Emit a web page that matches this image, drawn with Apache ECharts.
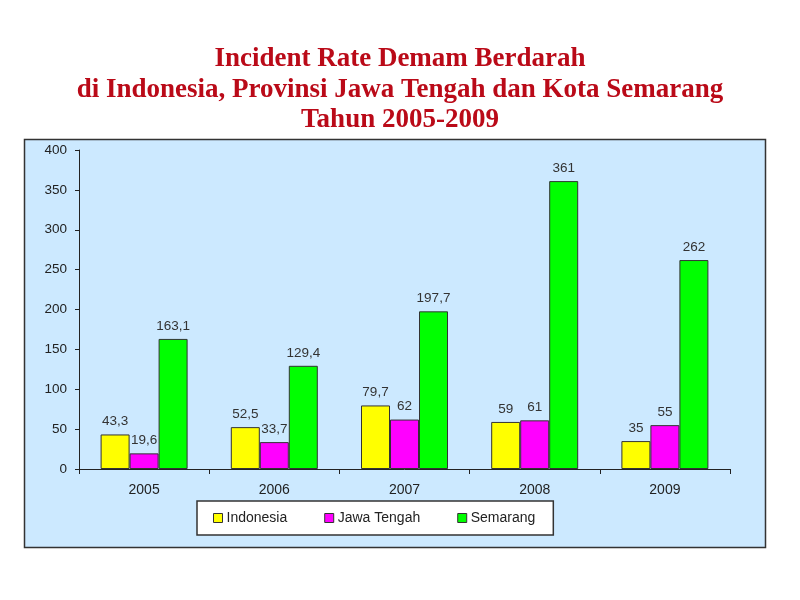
<!DOCTYPE html>
<html>
<head>
<meta charset="utf-8">
<script src="https://cdn.jsdelivr.net/npm/echarts@6/dist/echarts.min.js"></script>
<style>
  html, body { margin: 0; padding: 0; background: #fff; }
  #chart { width: 800px; height: 600px; }
</style>
</head>
<body>
<div id="chart"></div>
<script>
const years = ['2005', '2006', '2007', '2008', '2009'];
const indonesia = [43.3, 52.5, 79.7, 59, 35];
const jawaTengah = [19.6, 33.7, 62, 61, 55];
const semarang = [163.1, 129.4, 197.7, 361, 262];

const chart = echarts.init(document.getElementById('chart'));

// comma as decimal separator, like the original
function fmt(p) {
  return String(p.value).replace('.', ',');
}

function bar(name, data, color) {
  return {
    name: name,
    type: 'bar',
    data: data,
    barWidth: 29,
    barGap: '0%',
    itemStyle: { color: color, borderColor: '#333', borderWidth: 1 },
    label: {
      show: true,
      position: 'top',
      distance: 6,
      color: '#333',
      fontFamily: 'Liberation Sans, Arial',
      fontSize: 13.5,
      formatter: fmt
    }
  };
}

chart.setOption({
  animation: false,
  title: {
    text: 'Incident Rate Demam Berdarah\ndi Indonesia, Provinsi Jawa Tengah dan Kota Semarang\nTahun 2005-2009',
    left: 'center',
    top: 39,
    textStyle: {
      color: '#BA0A18',
      fontFamily: 'Liberation Serif, serif',
      fontWeight: 'bold',
      fontSize: 27,
      lineHeight: 30.5
    }
  },
  graphic: [{
    type: 'rect',
    z: -10,
    shape: { x: 24.5, y: 139.5, width: 741, height: 408 },
    style: { fill: '#CCE9FF', stroke: '#333', lineWidth: 1.5 }
  }],
  legend: {
    left: 197,
    top: 501,
    padding: [10, 18, 10, 16],
    itemGap: 37,
    itemWidth: 9,
    itemHeight: 9,
    icon: 'rect',
    backgroundColor: '#fff',
    borderColor: '#333',
    borderWidth: 1.5,
    itemStyle: { borderColor: '#333', borderWidth: 1 },
    textStyle: { color: '#222', fontFamily: 'Liberation Sans, Arial', fontSize: 14, padding: [0, 0, 0, -1] },
    data: ['Indonesia', 'Jawa Tengah', 'Semarang']
  },
  grid: { left: 79, right: 70, top: 150, bottom: 131 },
  xAxis: {
    type: 'category',
    data: years,
    axisLine: { lineStyle: { color: '#222', width: 1 } },
    axisTick: { show: true, length: 5, lineStyle: { color: '#222' } },
    axisLabel: { color: '#222', fontFamily: 'Liberation Sans, Arial', fontSize: 14, margin: 14 }
  },
  yAxis: {
    type: 'value',
    min: 0,
    max: 400,
    interval: 50,
    splitLine: { show: false },
    axisLine: { show: true, lineStyle: { color: '#222', width: 1 } },
    axisTick: { show: true, length: 4, lineStyle: { color: '#222' } },
    axisLabel: { color: '#222', fontFamily: 'Liberation Sans, Arial', fontSize: 13.5, margin: 12 }
  },
  series: [
    bar('Indonesia', indonesia, '#FFFF00'),
    bar('Jawa Tengah', jawaTengah, '#FF00FF'),
    bar('Semarang', semarang, '#00FF00')
  ]
});
</script>
</body>
</html>
